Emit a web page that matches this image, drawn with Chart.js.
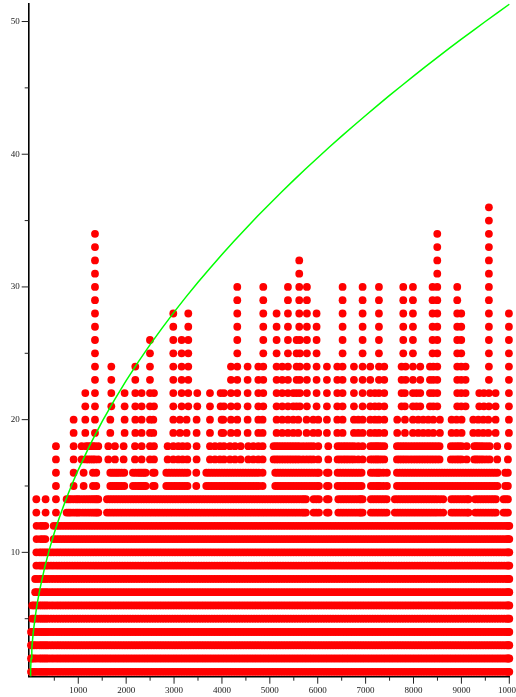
<!DOCTYPE html>
<html>
<head>
<meta charset="utf-8">
<style>
  html, body { margin: 0; padding: 0; background: #fff; overflow: hidden; }
  #wrap { width: 516px; height: 697px; }
</style>
</head>
<body>
<div id="wrap"><canvas id="plot"></canvas></div>
<script src="https://cdn.jsdelivr.net/npm/chart.js@4/dist/chart.umd.min.js"></script>
<script>
// x positions, rows come in pairs (same x's)
const longRun = [600,710,820,930,1040,1150,1260,1370,1480,1590,1700,1810,1920,2030,2140,2250,2360,2470,2580,2690,2800,2910,3020,3130,3240,3350,3460,3570,3680,3790,3900,4010,4120,4230,4340,4450,4560,4670,4780,4890,5000,5110,5220,5330,5440,5550,5660,5770,5880,5990,6100,6210,6320,6430,6540,6650,6760,6870,6980,7090,7200,7310,7420,7530,7640,7750,7860,7970,8080,8190,8300,8410,8520,8630,8740,8850,8960,9070,9180,9290,9400,9510,9620,9730,9840,9950,10000];
const longRunFill = [545,655,765,875,985,1095,1205,1315,1425,1535,1645,1755,1865,1975,2085,2195,2305,2415,2525,2635,2745,2855,2965,3075,3185,3295,3405,3515,3625,3735,3845,3955,4065,4175,4285,4395,4505,4615,4725,4835,4945,5055,5165,5275,5385,5495,5605,5715,5825,5935,6045,6155,6265,6375,6485,6595,6705,6815,6925,7035,7145,7255,7365,7475,7585,7695,7805,7915,8025,8135,8245,8355,8465,8575,8685,8795,8905,9015,9125,9235,9345,9455,9565,9675,9785,9895,9975];
const lead1to4 = [13,40,80,130,190,235,280,325,370,430,486];
const lead5to6 = [40,80,130,190,235,280,325,370,430,486];
const lead7to8 = [100,130,190,235,280,325,370,430,486];
const lead9to10 = [125,190,235,280,325,370,430,486];
const lead11to12 = [130,210,260,312,486];

const row13 = [124,318,534,757,840,950,1035,1150,1258,1349,1418,1600,1710,1820,1930,2040,2150,2260,2370,2480,2590,2700,2810,2920,3030,3140,3250,3360,3470,3580,3690,3800,3910,4020,4130,4240,4350,4460,4570,4680,4790,4900,5010,5120,5230,5340,5450,5560,5670,5754,5913,6025,6192,6226,6430,6540,6650,6760,6870,6937,7110,7220,7330,7440,7610,7720,7830,7940,8050,8160,8270,8380,8490,8620,8790,8900,9010,9120,9150,9290,9400,9510,9620,9720,9880,9971];
const row13Fill = [800,895,990,1095,1205,1305,1385,1655,1765,1875,1985,2095,2205,2315,2425,2535,2645,2755,2865,2975,3085,3195,3305,3415,3525,3635,3745,3855,3965,4075,4185,4295,4405,4515,4625,4735,4845,4955,5065,5175,5285,5395,5505,5615,5712,5970,6485,6595,6705,6815,6900,7165,7275,7385,7665,7775,7885,7995,8105,8215,8325,8435,8555,8845,8955,9065,9345,9455,9565,9670,9925];
const row15 = [534,903,1112,1307,1376,1669,1760,1850,1961,2142,2250,2330,2407,2560,2594,2838,2950,3060,3170,3280,3464,3673,3780,3890,4000,4110,4220,4330,4440,4550,4660,4770,4849,5113,5220,5330,5440,5550,5660,5770,5880,5990,6025,6192,6226,6415,6530,6640,6750,6860,6916,7110,7220,7300,7445,7654,7770,7880,7990,8100,8210,8320,8430,8540,8650,8760,8870,8980,9090,9200,9310,9420,9530,9640,9750,9915,9970];
const row15Fill = [1715,1805,1905,2196,2290,2370,2894,3005,3115,3225,3726,3835,3945,4055,4165,4275,4385,4495,4605,4715,5166,5275,5385,5495,5605,5715,5825,5935,6472,6585,6695,6805,7165,7260,7370,7712,7825,7935,8045,8155,8265,8375,8485,8595,8705,8815,8925,9035,9145,9255,9365,9475,9585,9695];
const row17 = [534,903,1070,1161,1258,1349,1418,1627,1766,1947,2184,2323,2497,2581,2866,2984,3089,3179,3277,3471,3750,3854,3958,4042,4167,4272,4390,4550,4655,4759,4849,5078,5180,5290,5400,5510,5620,5770,5907,6011,6220,6415,6530,6640,6760,6846,6937,7097,7194,7278,7389,7654,7760,7870,7988,8100,8210,8320,8430,8544,8781,8899,9004,9110,9268,9352,9456,9590,9748,9971];
const row17Fill = [1210,1305,5130,5235,5345,5455,5565,5695,5840,6470,6585,6700,7145,7236,7330,7705,7815,7930,8045,8155,8265,8375,8487,8840,8950,9310,9404,9523];
const row19 = [903,1147,1349,1669,1968,2191,2323,2497,2567,2984,3123,3262,3471,3750,3993,4028,4188,4320,4536,4759,4849,5141,5259,5378,5489,5593,5767,5907,6011,6192,6408,6519,6756,6846,6937,7097,7194,7278,7389,7660,7821,7988,8099,8203,8308,8412,8551,8795,8899,9004,9247,9352,9456,9561,9714,9992];
const row21 = [1147,1349,1690,1968,2191,2323,2497,2581,2984,3158,3297,3485,3750,3972,4042,4188,4320,4536,4759,4863,5141,5259,5378,5489,5559,5628,5774,5976,6192,6408,6519,6756,6937,7097,7194,7278,7389,7751,7820,7988,8064,8141,8343,8412,8496,8913,8997,9087,9373,9470,9574,9714,9992];
const row23 = [1349,1690,2191,2497,2984,3158,3297,4188,4320,4536,4759,4863,5141,5259,5378,5559,5628,5774,5976,6192,6408,6519,6756,6937,7097,7278,7389,7751,7835,7988,8141,8343,8412,8496,8913,8997,9087,9574,9992];
const row25 = [1349,2497,2984,3158,3297,4320,4863,5141,5378,5559,5628,5774,5976,6519,6937,7278,7786,7988,8398,8496,8913,8997,9574,9992];
const row27 = [1349,2984,3297,4320,4863,5141,5378,5614,5774,5976,6519,6937,7278,7786,7988,8398,8496,8913,8997,9574,9992];
const row29 = [1349,4320,4863,5378,5614,5774,6519,6937,7278,7786,7988,8398,8496,8913,9574];
const row31 = [1349,5614,8496,9574];
const row33 = [1349,8496,9574];
const row35 = [9574];

const fullRow = longRun.concat(longRunFill);

// [first y of the pair, x's]
const pairs = [
  [1, lead1to4.concat(fullRow)],
  [3, lead1to4.concat(fullRow)],
  [5, lead5to6.concat(fullRow)],
  [7, lead7to8.concat(fullRow)],
  [9, lead9to10.concat(fullRow)],
  [11, lead11to12.concat(fullRow)],
  [13, row13.concat(row13Fill)],
  [15, row15.concat(row15Fill)],
  [17, row17.concat(row17Fill)],
  [19, row19],
  [21, row21],
  [23, row23],
  [25, row25],
  [27, row27],
  [29, row29],
  [31, row31],
  [33, row33],
  [35, row35],
];

// green curve
const curveX = [0,5,15,30,60,100,150,200,300,400,500,600,700,800,900,1000,1250,1500,1750,2000,2250,2500,2750,3000,3250,3500,3750,4000,4250,4500,4750,5000,5250,5500,5750,6000,6250,6500,6750,7000,7250,7500,7750,8000,8250,8500,8750,9000,9250,9500,9750,10000];
const curveY = [0.7,1.15,2,2.8,3.97,5.13,6.28,7.25,8.89,10.26,11.47,12.57,13.57,14.51,15.39,16.22,18.14,19.87,21.46,22.94,24.33,25.65,26.9,28.1,29.25,30.35,31.41,32.44,33.44,34.41,35.36,36.27,37.17,38.05,38.9,39.74,40.56,41.36,42.15,42.92,43.68,44.43,45.16,45.88,46.6,47.3,47.99,48.67,49.34,50,50.65,51.3];

const xTicks = [500,1000,1500,2000,2500,3000,3500,4000,4500,5000,5500,6000,6500,7000,7500,8000,8500,9000,9500,10000];
const yTicks = [5,10,15,20,25,30,35,40,45,50];

const dots = [];
pairs.forEach(([y, xs]) => {
  xs.forEach((x) => {
    dots.push({ x: x, y: y });
    dots.push({ x: x, y: y + 1 });
  });
});

const curve = curveX.map((x, i) => ({ x: x, y: curveY[i] }));

// chart.js has one tick length per axis, the minor ones here are shorter
const tickMarks = {
  id: "tickMarks",
  afterDraw(chart) {
    const ctx = chart.ctx;
    const xs = chart.scales.x;
    const ys = chart.scales.y;
    ctx.save();
    ctx.strokeStyle = "#222";
    ctx.lineWidth = 1;
    xs.ticks.forEach((t) => {
      const px = xs.getPixelForValue(t.value);
      ctx.beginPath();
      ctx.moveTo(px, xs.top);
      ctx.lineTo(px, xs.top + (t.value % 1000 === 0 ? 7 : 4));
      ctx.stroke();
    });
    ys.ticks.forEach((t) => {
      const py = ys.getPixelForValue(t.value);
      ctx.beginPath();
      ctx.moveTo(ys.right, py);
      ctx.lineTo(ys.right - (t.value % 10 === 0 ? 7 : 4), py);
      ctx.stroke();
    });
    ctx.restore();
  },
};

const tickFont = { family: "'Liberation Serif', serif", size: 9 };

new Chart(document.getElementById("plot"), {
  type: "scatter",
  data: {
    datasets: [
      {
        data: dots,
        order: 2,
        pointRadius: 3.9,
        pointBorderWidth: 0,
        pointBackgroundColor: "#ff0000",
        clip: false,
      },
      {
        data: curve,
        order: 1,
        showLine: true,
        pointRadius: 0,
        borderColor: "#00ff00",
        borderWidth: 1.5,
        tension: 0,
        clip: false,
      },
    ],
  },
  options: {
    responsive: true,
    maintainAspectRatio: false,
    animation: false,
    layout: { padding: { top: 4, right: 6.7, left: 0, bottom: 0 } },
    plugins: { legend: { display: false }, tooltip: { enabled: false } },
    scales: {
      x: {
        type: "linear",
        min: -35,
        max: 10000,
        z: 1,
        grid: { display: false, drawTicks: false },
        border: { color: "#000", width: 1.6 },
        afterBuildTicks(scale) {
          scale.ticks = xTicks.map((value) => ({ value }));
        },
        afterFit(scale) {
          scale.height = 20.3;
          scale.paddingLeft = 0;
          scale.paddingRight = 0;
        },
        ticks: {
          autoSkip: false,
          maxRotation: 0,
          padding: 9,
          color: "#222",
          font: tickFont,
          callback: (v) => (v % 1000 === 0 ? String(v) : ""),
        },
      },
      y: {
        type: "linear",
        min: 0.63,
        max: 51.32,
        z: 1,
        grid: { display: false, drawTicks: false },
        border: { color: "#000", width: 1.6 },
        afterBuildTicks(scale) {
          scale.ticks = yTicks.map((value) => ({ value }));
        },
        afterFit(scale) {
          scale.width = 28.7;
          scale.paddingTop = 0;
          scale.paddingBottom = 0;
        },
        ticks: {
          autoSkip: false,
          padding: 9,
          color: "#222",
          font: tickFont,
          callback: (v) => (v % 10 === 0 ? String(v) : ""),
        },
      },
    },
  },
  plugins: [tickMarks],
});
</script>
</body>
</html>
